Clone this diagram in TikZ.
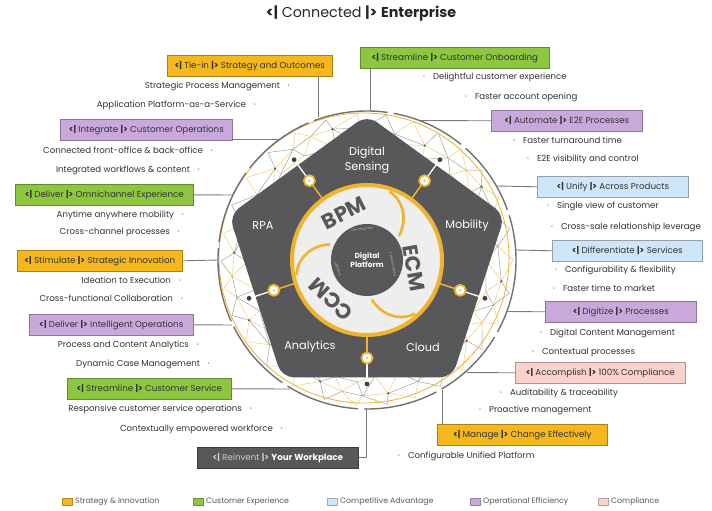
\documentclass[tikz,border=0pt]{standalone}
\usepackage{fontspec}
\setmainfont{Poppins}
\usetikzlibrary{calc}
\definecolor{gold}{HTML}{F0B32E}
\definecolor{meshgold}{HTML}{F3C86A}
\definecolor{boxgold}{HTML}{F4B71C}
\definecolor{boxgreen}{HTML}{8DC63F}
\definecolor{boxblue}{HTML}{CFE6F8}
\definecolor{boxpurple}{HTML}{C9A9DC}
\definecolor{boxpink}{HTML}{F9D2CC}
\definecolor{dgrey}{HTML}{58585A}
\definecolor{txt}{HTML}{333333}
\definecolor{ringfill}{HTML}{EEEEEE}
\definecolor{meshgrey}{HTML}{9A9A9A}
\definecolor{linegrey}{HTML}{7A7A7A}
\newcommand\myL{\textbf{<|}}
\newcommand\myR{\textbf{|>}}
\begin{document}
\begin{tikzpicture}[x=1pt,y=-1pt,
  every node/.style={text=txt},
  lbox/.style={draw=#1!70!black, fill=#1, line width=0.6pt, minimum height=21pt, inner sep=0pt, anchor=north west, font=\fontsize{8.7}{9}\selectfont},
  bul/.style={inner sep=0pt, font=\fontsize{8.6}{9}\selectfont},
  lb/.style={bul, anchor=east},
  rb/.style={bul, anchor=west},
  conn/.style={draw=linegrey, line width=0.9pt},
  mesh/.style={line width=0.45pt},
  plab/.style={text=white, font=\fontsize{11.3}{15}\selectfont, align=center, inner sep=0pt},
  big/.style={text=dgrey, font=\fontsize{21}{21}\selectfont\bfseries, inner sep=0pt},
  tiny/.style={text=black!30, font=\fontsize{3.6}{4}\selectfont, inner sep=0pt},
  legsq/.style={draw=#1!75!black, fill=#1, minimum width=10pt, minimum height=7pt, inner sep=0pt, line width=0.4pt},
  legt/.style={text=black!65, font=\fontsize{7.8}{8}\selectfont, anchor=west, inner sep=0pt}
]
\useasboundingbox[fill=white] (0,0) rectangle (712,511);
\coordinate (C) at (367,260);
\coordinate (G) at (364,258);

% ---------- title
\node[font=\fontsize{14.3}{16}\selectfont, text=black!85] (title) at (361,14) {\myL{} Connected \myR{} \textbf{Enterprise}};

% ---------- mesh
\begin{scope}
\clip (C) circle (147);
\foreach \k in {0,...,29}{
  \pgfmathsetmacro\aa{\k*12+3*sin(\k*71)}
  \pgfmathsetmacro\ra{119+4*sin(\k*97)}
  \pgfmathsetmacro\ab{\k*12+6+3*cos(\k*59)}
  \pgfmathsetmacro\rb{132+4*cos(\k*53)}
  \pgfmathsetmacro\ac{\k*12+2*sin(\k*37)}
  \coordinate (ma\k) at ([shift={(\aa:\ra)}]C);
  \coordinate (mb\k) at ([shift={(\ab:\rb)}]C);
  \coordinate (mc\k) at ([shift={(\ac:146)}]C);
}
\foreach \k in {0,...,29}{
  \pgfmathtruncatemacro\n{mod(\k+1,30)}
  \pgfmathtruncatemacro\odd{mod(\k,2)}
  \ifnum\odd=0 \def\ca{meshgrey}\def\cb{meshgold}\else\def\ca{meshgold}\def\cb{meshgrey}\fi
  \draw[mesh,\ca] (ma\k) -- (ma\n) (mb\k) -- (mc\n);
  \draw[mesh,\cb] (ma\k) -- (mb\k) -- (ma\n) (mb\k) -- (mb\n) (mc\k) -- (mb\k);
}
\foreach \k in {0,3,...,27}{
  \fill[dgrey] (mb\k) circle (1.2);
}
\end{scope}

% ---------- outer circles
\draw[gold, line width=0.8pt] (G) circle (145);
\draw[dgrey!85, line width=1.4pt, dash pattern=on 75pt off 6pt] (C) circle (149);

% ---------- pentagon
\fill[dgrey, rounded corners=12pt] ([shift={(-90:145)}]C) -- ([shift={(-162:145)}]C) -- ([shift={(-234:145)}]C) -- ([shift={(-306:145)}]C) -- ([shift={(-18:145)}]C) -- cycle;

% ---------- connector spokes
\foreach \p in {-54,-126,-198,-270,-342}{
  \draw[gold, line width=1.5pt] ([shift={(\p:74)}]C) -- ([shift={(\p:93)}]C);
  \draw[white, line width=1.3pt] ([shift={(\p:103)}]C) -- ([shift={(\p:124)}]C);
  \fill[black!75] ([shift={(\p:124)}]C) circle (2.4);
}

% ---------- central ring
\draw[gold, line width=4pt, fill=ringfill] (C) circle (75);
\foreach \R in {0,-120,-240}{
  \draw[gold, line width=2.6pt] ([shift={(-72-\R:72)}]C) .. controls ([shift={(-59-\R:70)}]C) and ([shift={(-45-\R:58)}]C) .. ([shift={(-37-\R:40)}]C);
}
\fill[dgrey] (C) circle (36);

\foreach \p in {-54,-126,-198,-270,-342}{
  \draw[gold, line width=1.8pt, fill=white] ([shift={(\p:98)}]C) circle (5.5);
  \fill[black!25] ([shift={(\p:98)}]C) circle (1.2);
}

% ---------- centre texts
\node[plab] (ds) at (367,160) {Digital\\Sensing};
\node[plab] (rpa) at (263,226) {RPA};
\node[plab] (mob) at (467,226) {Mobility};
\node[plab] (ana) at (310,347) {Analytics};
\node[plab] (clo) at (423,347) {Cloud};
\node[big, rotate=27] (bpm) at (344,213) {BPM};
\node[big, rotate=-80] (ecm) at (414,268) {ECM};
\node[big, rotate=137] (ccm) at (331,299) {CCM};
\node[tiny, rotate=8] (orc) at (362,229) {Orchestrate};
\node[tiny, rotate=-78] (ctx) at (393,264) {Contextualize};
\node[tiny, rotate=112] (eng) at (338,269) {Engage};
\node[text=white, font=\fontsize{7.4}{9}\selectfont\bfseries, align=center, inner sep=0pt] (dp) at (367,260) {Digital\\Platform};

% ---------- boxes left
\node[lbox=boxgold, minimum width=165pt] (tie) at (167,55) {\myL{} Tie-in \myR{} Strategy and Outcomes};
\node[lbox=boxpurple, minimum width=172pt] (int) at (60,119) {\myL{} Integrate \myR{} Customer Operations};
\node[lbox=boxgreen, minimum width=178pt] (omni) at (15,184) {\myL{} Deliver \myR{} Omnichannel Experience};
\node[lbox=boxgold, minimum width=165pt] (stim) at (17,250) {\myL{} Stimulate \myR{} Strategic Innovation};
\node[lbox=boxpurple, minimum width=164pt] (intel) at (29,314) {\myL{} Deliver \myR{} Intelligent Operations};
\node[lbox=boxgreen, minimum width=164pt] (scs) at (67,378) {\myL{} Streamline \myR{} Customer Service};
\node[lbox=dgrey, minimum width=161pt] (rein) at (197,447) {\textcolor{black!20}{\myL{} Reinvent \myR{}} \textcolor{white}{\textbf{Your Workplace}}};

% ---------- boxes right
\node[lbox=boxgreen, minimum width=189pt] (onb) at (360,47) {\myL{} Streamline \myR{} Customer Onboarding};
\node[lbox=boxpurple, minimum width=151pt] (aut) at (491,110) {\myL{} Automate \myR{} E2E Processes};
\node[lbox=boxblue, minimum width=151pt] (uni) at (537,176) {\myL{} Unify \myR{} Across Products};
\node[lbox=boxblue, minimum width=150pt] (dif) at (552,240) {\myL{} Differentiate \myR{} Services};
\node[lbox=boxpurple, minimum width=151pt] (dig) at (545,301) {\myL{} Digitize \myR{} Processes};
\node[lbox=boxpink, minimum width=170pt] (acc) at (515,362) {\myL{} Accomplish \myR{} 100\% Compliance};
\node[lbox=boxgold, minimum width=170pt] (man) at (437,424) {\myL{} Manage \myR{} Change Effectively};

% ---------- connector end points on the circle
\coordinate (etie) at (318,117);
\coordinate (eint) at (278,139);
\coordinate (eomni) at (232,195);
\coordinate (estim) at (218,260);
\coordinate (eintel) at (232,325);
\coordinate (escs) at (290,389);
\coordinate (erein) at (366,408);
\coordinate (eonb) at (370,111);
\coordinate (eaut) at (421,120.5);
\coordinate (euni) at (497,186);
\coordinate (edif) at (516,250);
\coordinate (edig) at (508,311.5);
\coordinate (eacc) at (467,372.5);
\coordinate (eman) at (442,390);

\draw[conn] (tie.south -| etie) -- (etie);
\draw[conn] (int.east |- eint) -- (eint);
\draw[conn] (omni.east) -- (eomni);
\draw[conn] (stim.east) -- (estim);
\draw[conn] (intel.east) -- (eintel);
\draw[conn] (scs.east) -- (escs);
\draw[conn] (erein) |- (rein.east);
\draw[conn] (onb.south -| eonb) -- (eonb);
\draw[conn] (aut.west) -- (eaut);
\draw[conn] (uni.west) -- (euni);
\draw[conn] (dif.west) -- (edif);
\draw[conn] (dig.west) -- (edig);
\draw[conn] (acc.west) -- (eacc);
\draw[conn] (man.north -| eman) -- (eman);

% ---------- bullets left
\node[lb] (t1) at (290,86) {Strategic Process Management\hspace{8pt}·};
\node[lb] (t2) at (256,105) {Application Platform-as-a-Service\hspace{8pt}·};
\node[lb] (i1) at (213,150) {Connected front-office \& back-office\hspace{8pt}·};
\node[lb] (i2) at (200,170) {Integrated workflows \& content\hspace{8pt}·};
\node[lb] (o1) at (184,215) {Anytime anywhere mobility\hspace{8pt}·};
\node[lb] (o2) at (180,232) {Cross-channel processes\hspace{8pt}·};
\node[lb] (s1) at (181,280) {Ideation to Execution\hspace{8pt}·};
\node[lb] (s2) at (183,298) {Cross-functional Collaboration\hspace{8pt}·};
\node[lb] (n1) at (199,345) {Process and Content Analytics\hspace{8pt}·};
\node[lb] (n2) at (210,364) {Dynamic Case Management\hspace{8pt}·};
\node[lb] (c1) at (252,409) {Responsive customer service operations\hspace{8pt}·};
\node[lb] (c2) at (283,429) {Contextually empowered workforce\hspace{8pt}·};

% ---------- bullets right
\node[rb] (b1) at (423,77) {·\hspace{8pt}Delightful customer experience};
\node[rb] (b2) at (465,97) {·\hspace{8pt}Faster account opening};
\node[rb] (a1) at (513,140) {·\hspace{8pt}Faster turnaround time};
\node[rb] (a2) at (527,159) {·\hspace{8pt}E2E visibility and control};
\node[rb] (u1) at (547,206) {·\hspace{8pt}Single view of customer};
\node[rb] (u2) at (551,227) {·\hspace{8pt}Cross-sale relationship leverage};
\node[rb] (d1) at (555,270) {·\hspace{8pt}Configurability \& flexibility};
\node[rb] (d2) at (553,288) {·\hspace{8pt}Faster time to market};
\node[rb] (g1) at (540,333) {·\hspace{8pt}Digital Content Management};
\node[rb] (g2) at (532,352) {·\hspace{8pt}Contextual processes};
\node[rb] (p1) at (500,393) {·\hspace{8pt}Auditability \& traceability};
\node[rb] (p2) at (479,410) {·\hspace{8pt}Proactive management};
\node[rb] (m1) at (398,456) {·\hspace{8pt}Configurable Unified Platform};

% ---------- legend
\node[legsq=boxgold] (k1) at (67,502) {};
\node[legt] (k1t) at (75,502) {Strategy \& Innovation};
\node[legsq=boxgreen] (k2) at (198,502) {};
\node[legt] (k2t) at (206,502) {Customer Experience};
\node[legsq=boxblue] (k3) at (332,502) {};
\node[legt] (k3t) at (340,502) {Competitive Advantage};
\node[legsq=boxpurple] (k4) at (475,502) {};
\node[legt] (k4t) at (483,502) {Operational Efficiency};
\node[legsq=boxpink] (k5) at (603,502) {};
\node[legt] (k5t) at (611,502) {Compliance};
\end{tikzpicture}
\end{document}
